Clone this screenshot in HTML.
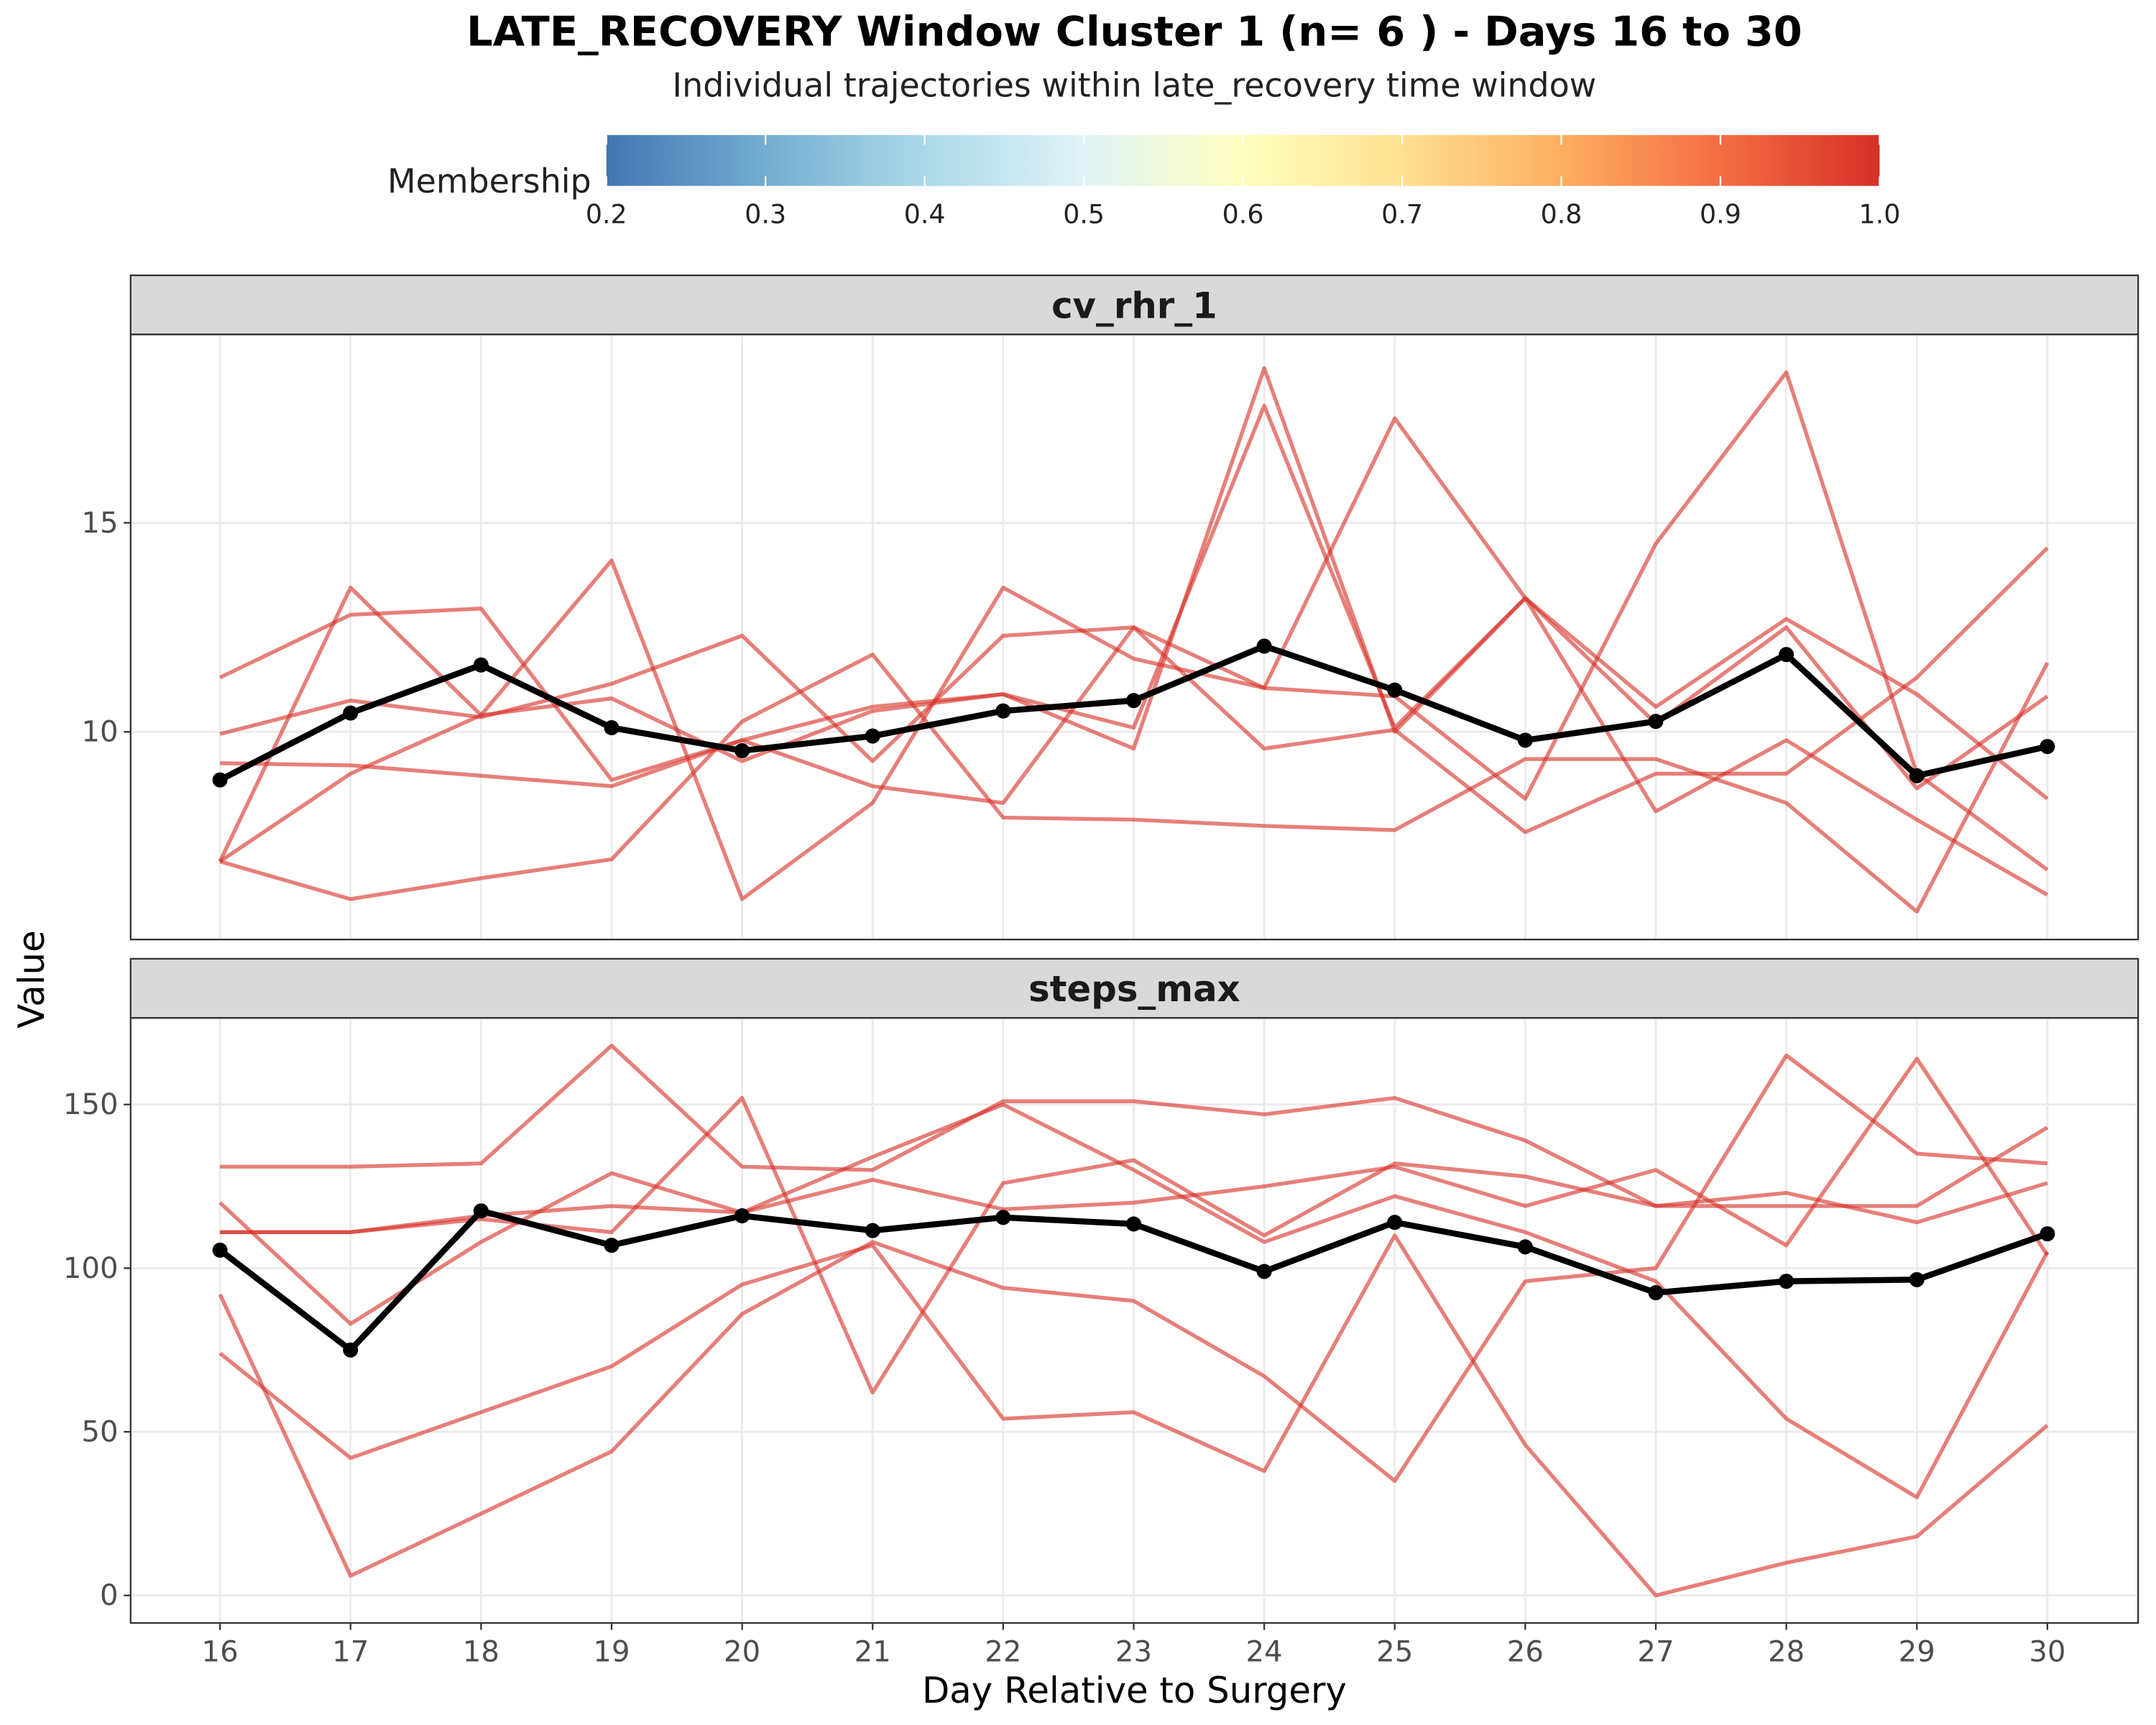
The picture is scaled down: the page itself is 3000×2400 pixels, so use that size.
<!DOCTYPE html>
<html><head><meta charset="utf-8"><style>html,body{margin:0;padding:0;background:#fff}svg{display:block}</style></head>
<body>
<svg id="chart" width="3000" height="2400" viewBox="0 0 1568 1254" xmlns="http://www.w3.org/2000/svg" font-family="'DejaVu Sans','Liberation Sans',sans-serif">
<defs>
<linearGradient id="cbar" x1="0" x2="1" y1="0" y2="0">
<stop offset="0" stop-color="#4575b4"/><stop offset="0.125" stop-color="#74add1"/><stop offset="0.25" stop-color="#abd9e9"/><stop offset="0.375" stop-color="#e0f3f8"/><stop offset="0.5" stop-color="#ffffbf"/><stop offset="0.625" stop-color="#fee090"/><stop offset="0.75" stop-color="#fdae61"/><stop offset="0.875" stop-color="#f46d43"/><stop offset="1" stop-color="#d73027"/>
</linearGradient>
</defs>
<text x="825" y="33" text-anchor="middle" font-size="30" font-weight="bold">LATE_RECOVERY Window Cluster 1 (n= 6 ) - Days 16 to 30</text>
<text x="825" y="70" text-anchor="middle" font-size="24" fill="#222">Individual trajectories within late_recovery time window</text>
<g id="legend">
<text x="430" y="140" text-anchor="end" font-size="24" fill="#222">Membership</text>
<rect x="441" y="98" width="926" height="37" fill="url(#cbar)"/>
</g>
<g id="p1"></g>
<g id="p2"></g>
<text transform="translate(32,712) rotate(-90)" text-anchor="middle" font-size="26">Value</text>
<text x="825" y="1238" text-anchor="middle" font-size="26">Day Relative to Surgery</text>
</svg>
<script>
const days=[16,17,18,19,20,21,22,23,24,25,26,27,28,29,30];
const cbTicks=[0.2,0.3,0.4,0.5,0.6,0.7,0.8,0.9,1.0];
const cbLabels=["0.2","0.3","0.4","0.5","0.6","0.7","0.8","0.9","1.0"];
const cvTicks=[10,15];
const stepsTicks=[0,50,100,150];
const cvA=[11.3,12.8,12.95,8.85,9.8,10.6,10.9,9.6,18.7,10.0,13.2,10.6,12.7,10.9,8.4];
const cvB=[9.95,10.75,10.35,11.15,12.3,9.3,12.3,12.5,9.6,10.05,7.6,9.0,9.0,11.3,14.4];
const cvC=[6.9,13.45,10.4,10.8,9.3,10.5,10.9,10.1,17.8,10.1,13.2,10.2,12.5,8.65,10.85];
const cvD=[9.25,9.2,8.95,8.7,9.8,8.7,8.3,12.5,11.05,10.85,8.4,14.5,18.6,9.0,6.7];
const cvE=[6.9,6.0,6.5,6.95,10.25,11.85,7.95,7.9,7.75,7.65,9.35,9.35,8.3,5.7,11.65];
const cvF=[6.9,9.0,10.4,14.1,6.0,8.3,13.45,11.75,11.05,17.5,13.2,8.1,9.8,7.9,6.1];
const cvMean=[8.85,10.45,11.6,10.1,9.55,9.9,10.5,10.75,12.05,11.0,9.8,10.25,11.85,8.95,9.65];
const stA=[131,131,132,168,131,130,151,151,147,152,139,119,123,114,126];
const stB=[111,111,115,111,152,62,126,133,110,132,128,119,119,119,143];
const stC=[120,83,108,129,117,134,150,130,108,122,111,96,54,30,105];
const stD=[92,6,25,44,86,108,94,90,67,35,96,100,165,135,132];
const stE=[74,42,56,70,95,107,54,56,38,110,46,0,10,18,52];
const stF=[111,111,116,119,117,127,118,120,125,131,119,130,107,164,104];
const stMean=[105.5,75,117.5,107,116,111.5,115.5,113.5,99,114,106.5,92.5,96,96.5,110.5];

const NS="http://www.w3.org/2000/svg";
function mk(tag,attrs,parent){const e=document.createElementNS(NS,tag);for(const k in attrs)e.setAttribute(k,attrs[k]);parent.appendChild(e);return e;}
const xs=d=>160+(d-16)*(1489-160)/14;
const leg=document.getElementById('legend');
const cbx=v=>441+(v-0.2)/0.8*926;
cbTicks.forEach((v,i)=>{
  const t=mk('line',{x1:cbx(v),x2:cbx(v),y1:98,y2:105,stroke:'#fff','stroke-width':1.2},leg);
  
  
  const t2=mk('line',{x1:cbx(v),x2:cbx(v),y1:128,y2:135,stroke:'#fff','stroke-width':1.2},leg);
  
  
  const l=mk('text',{x:cbx(v),y:162,'text-anchor':'middle','font-size':19,fill:'#222'},leg);
  l.textContent=cbLabels[i];
  
  
});
function panel(g,label,top,bot,ys,ticks,series,mean,showX){
  const strip=mk('rect',{x:95,y:top-43,width:1460,height:43,fill:'#d9d9d9',stroke:'#333','stroke-width':1.2},g);
  
  
  const st=mk('text',{x:825,y:top-12,'text-anchor':'middle','font-size':26,'font-weight':'bold',fill:'#1a1a1a'},g);
  st.textContent=label;
  
  
  days.forEach(d=>{const gl=mk('line',{x1:xs(d),x2:xs(d),y1:top,y2:bot,stroke:'#ebebeb','stroke-width':1.5},g);
    
    });
  ticks.forEach(v=>{const gl=mk('line',{x1:95,x2:1555,y1:ys(v),y2:ys(v),stroke:'#ebebeb','stroke-width':1.5},g);
    
    
    const tk=mk('line',{x1:90,x2:95,y1:ys(v),y2:ys(v),stroke:'#333','stroke-width':1.2},g);
    
    
    const tl=mk('text',{x:86,y:ys(v)+7,'text-anchor':'end','font-size':21,fill:'#4d4d4d'},g);
    tl.textContent=String(v);
    
    });
  series.forEach(s=>{const p=mk('polyline',{points:s.map((v,i)=>xs(days[i])+','+ys(v)).join(' '),fill:'none',stroke:'#d73027','stroke-opacity':0.62,'stroke-width':2.8,'stroke-linejoin':'round'},g);
    
    });
  const m=mk('polyline',{points:mean.map((v,i)=>xs(days[i])+','+ys(v)).join(' '),fill:'none',stroke:'#000','stroke-width':4.4,'stroke-linejoin':'round'},g);
  
  
  mean.forEach((v,i)=>{const c=mk('circle',{cx:xs(days[i]),cy:ys(v),r:5.5,fill:'#000'},g);
    
    });
  const b=mk('rect',{x:95,y:top,width:1460,height:bot-top,fill:'none',stroke:'#333','stroke-width':1.2},g);
  
  
  if(showX){days.forEach(d=>{const tk=mk('line',{x1:xs(d),x2:xs(d),y1:bot,y2:bot+5,stroke:'#333','stroke-width':1.2},g);
    
    
    const tl=mk('text',{x:xs(d),y:bot+28,'text-anchor':'middle','font-size':21,fill:'#4d4d4d'},g);
    tl.textContent=String(d);
    
    });}
}
panel(document.getElementById('p1'),'cv_rhr_1',243,683,v=>532-(v-10)*30.4,cvTicks,[cvA,cvB,cvC,cvD,cvE,cvF],cvMean,false);
panel(document.getElementById('p2'),'steps_max',740,1180,v=>1160-v*2.38,stepsTicks,[stA,stB,stC,stD,stE,stF],stMean,true);
</script>
</body></html>
